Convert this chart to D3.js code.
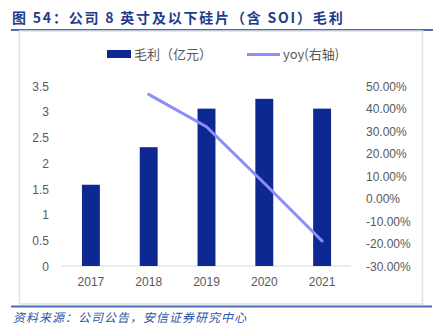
<!DOCTYPE html>
<html><head><meta charset="utf-8">
<script src="https://cdn.jsdelivr.net/npm/d3@7"></script>
<style>body{margin:0;background:#fff}svg{display:block}</style>
</head><body>
<script>
const categories = ["2017","2018","2019","2020","2021"];
const grossProfit = [1.58, 2.31, 3.06, 3.25, 3.06];
const yoy = [null, 46.3, 31.9, 6.8, -18.9];
const leftTicks = [0,0.5,1,1.5,2,2.5,3,3.5];
const rightTicks = [-30,-20,-10,0,10,20,30,40,50];
const titleText = "图 54：公司 8 英寸及以下硅片（含 SOI）毛利";
const sourceText = "资料来源：公司公告，安信证券研究中心";
const legendBar = "毛利（亿元）";
const legendLine = "yoy(右轴)";

const W=446,H=334;
const svg=d3.select("body").append("svg").attr("width",W).attr("height",H);
const cjk='"Noto Sans CJK SC","Noto Sans",sans-serif';
const lat='"Liberation Sans",Arial,sans-serif';

// title
svg.append("text").attr("x",12).attr("y",23).text(titleText)
  .attr("font-family",cjk).attr("font-weight","bold").attr("font-size",14)
  .attr("fill","#1F3C88").attr("letter-spacing",1.8);
svg.append("line").attr("x1",11).attr("x2",433).attr("y1",30).attr("y2",30)
  .attr("stroke","#4A6DB5").attr("stroke-width",2);
// frame
svg.append("rect").attr("x",19.5).attr("y",31).attr("width",403).attr("height",273)
  .attr("fill","#fff").attr("stroke","#e2e2e2").attr("stroke-width",1.5);
svg.append("line").attr("x1",11).attr("x2",432).attr("y1",306.5).attr("y2",306.5)
  .attr("stroke","#4A6DB5").attr("stroke-width",2);
svg.append("text").attr("x",13).attr("y",322).text(sourceText)
  .attr("font-family",cjk).attr("font-style","italic").attr("font-size",12)
  .attr("fill","#2A55A5").attr("letter-spacing",1);

const x=d3.scaleBand().domain(categories).range([62,351]).paddingInner(0.69).paddingOuter(0.345);
const yL=d3.scaleLinear().domain([0,3.5]).range([266,86]);
const yR=d3.scaleLinear().domain([-30,50]).range([266,86]);

// baseline
svg.append("line").attr("x1",62).attr("x2",351).attr("y1",266).attr("y2",266)
  .attr("stroke","#d9d9d9").attr("stroke-width",1);

svg.selectAll("rect.bar").data(grossProfit).join("rect").attr("class","bar")
  .attr("x",(d,i)=>x(categories[i])).attr("width",x.bandwidth())
  .attr("y",d=>yL(d)).attr("height",d=>yL(0)-yL(d)).attr("fill","#0D2891");

const line=d3.line().defined(d=>d.v!=null)
  .x(d=>x(d.c)+x.bandwidth()/2).y(d=>yR(d.v)).curve(d3.curveLinear);
svg.append("path").datum(categories.map((c,i)=>({c,v:yoy[i]})))
  .attr("d",line).attr("fill","none").attr("stroke","#8C8CFA").attr("stroke-width",3)
  .attr("stroke-linecap","round").attr("stroke-linejoin","round");

// axes
const axL=d3.axisLeft(yL).tickValues(leftTicks).tickSize(0).tickPadding(0).tickFormat(d=>d3.format("")(d));
const gL=svg.append("g").attr("transform","translate(49,0)").call(axL);
const axR=d3.axisRight(yR).tickValues(rightTicks).tickSize(0).tickPadding(0).tickFormat(d=>d.toFixed(2)+"%");
const gR=svg.append("g").attr("transform","translate(366,0)").call(axR);
const axB=d3.axisBottom(x).tickSize(0).tickPadding(0);
const gB=svg.append("g").attr("transform","translate(0,286)").call(axB);
[gL,gR,gB].forEach(g=>{g.select(".domain").remove();
  g.selectAll("text").attr("font-family",lat).attr("font-size",12).attr("fill","#595959");});
gB.selectAll("text").attr("dy","0");
gL.selectAll("text").attr("dy","0.35em");
gR.selectAll("text").attr("dy","0.35em");

// legend
svg.append("rect").attr("x",107).attr("y",50).attr("width",24).attr("height",8).attr("fill","#0D2891");
svg.append("text").attr("x",134).attr("y",59).text(legendBar).attr("font-family",cjk).attr("font-size",13).attr("fill","#595959");
svg.append("line").attr("x1",247).attr("x2",280).attr("y1",54.5).attr("y2",54.5).attr("stroke","#8C8CFA").attr("stroke-width",3);
svg.append("text").attr("x",283).attr("y",59).text(legendLine).attr("font-family",cjk).attr("font-size",13).attr("fill","#595959");
</script>
</body></html>
